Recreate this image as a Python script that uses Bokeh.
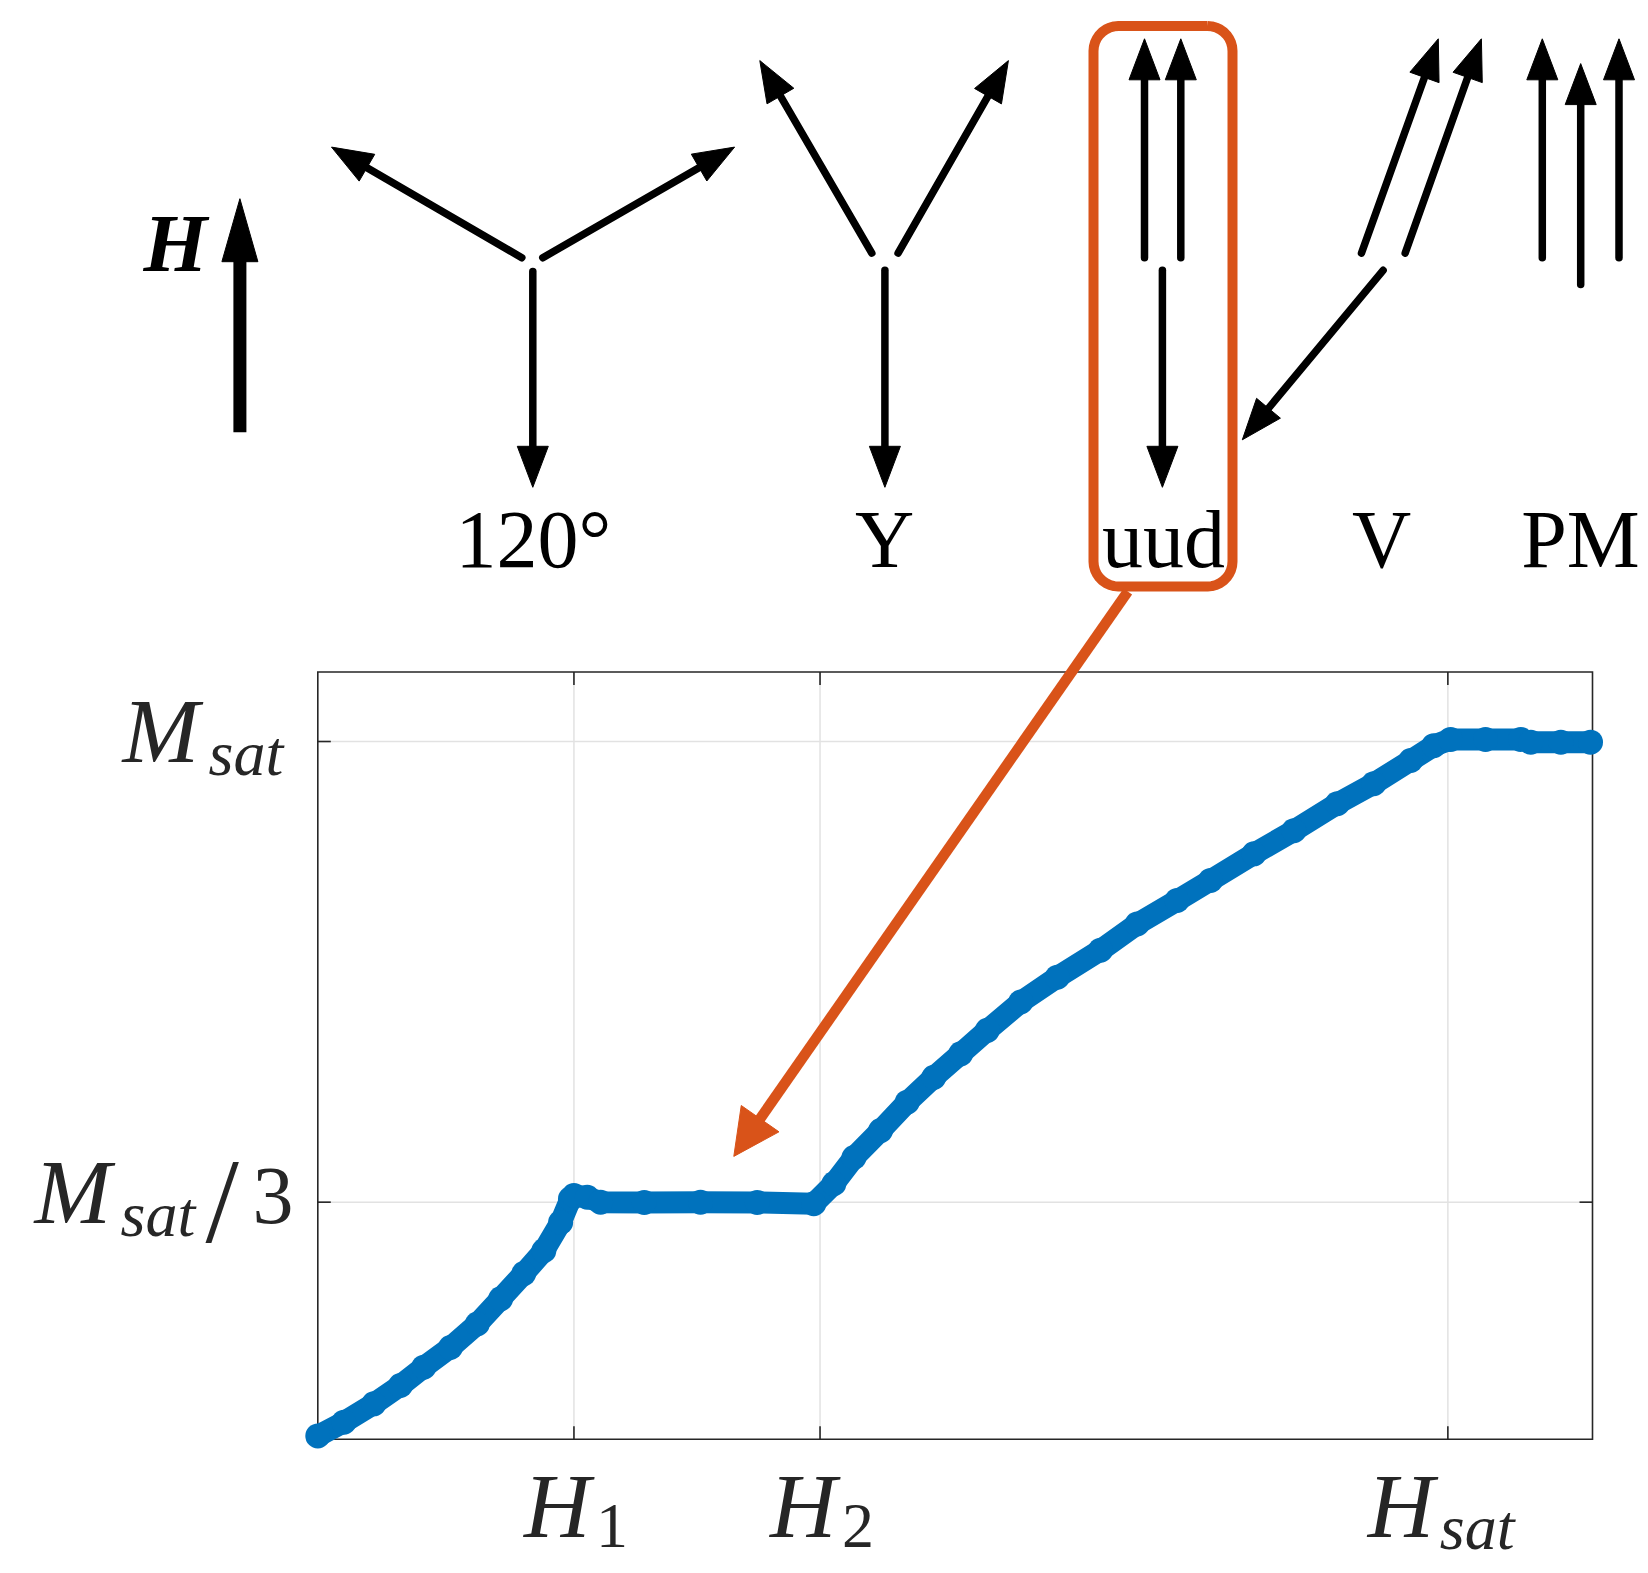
import math
from bokeh.plotting import figure
from bokeh.models import Range1d
from bokeh.core.properties import value
from bokeh.embed import file_html
from bokeh.resources import INLINE

# ---------------- data ----------------
tick_fields = [1.02, 2.0, 4.5]          # H1, H2, Hsat
tick_field_subs = ["1", "2", "sat"]
tick_moments = [1.0 / 3.0, 1.0]        # Msat/3, Msat

field = [0.0, 0.104, 0.223, 0.329, 0.422, 0.528, 0.635, 0.728, 0.820, 0.900,
         0.967, 1.006, 1.020, 1.073, 1.126, 1.30, 1.524, 1.75, 1.975, 2.055,
         2.135, 2.241, 2.347, 2.453, 2.560, 2.666, 2.799, 2.945, 3.117, 3.263,
         3.422, 3.555, 3.728, 3.887, 4.060, 4.205, 4.352, 4.444, 4.511, 4.650,
         4.790, 4.830, 4.950, 5.068]
magnet = [-0.005, 0.015, 0.0415, 0.068, 0.0945, 0.123, 0.157, 0.1935, 0.230, 0.263,
          0.304, 0.338, 0.343, 0.3405, 0.3333, 0.333, 0.3333, 0.333, 0.331, 0.360,
          0.398, 0.437, 0.478, 0.514, 0.548, 0.582, 0.623, 0.659, 0.698, 0.736,
          0.770, 0.799, 0.8375, 0.871, 0.910, 0.939, 0.9725, 0.994, 1.003, 1.003,
          1.003, 0.999, 0.999, 0.999]

structure_names = ["120°", "Y", "uud", "V", "PM"]

# ---------------- layout (canvas pixels) ----------------
CW, CH = 1640, 1565
FL, FR, FT, FB = 317.3, 1592.0, 671.5, 1438.7     # chart box on the canvas
X0, X1 = 0.0, 5.076
Y0, Y1 = -0.0097, 1.1006

BLUE = "#0072BD"
ORANGE = "#D95319"
AX = "#262626"
GRID = "#e2e2e2"
FONT = value("Liberation Serif")
BASE_SHIFT = 0.355   # text glyph baseline correction (in em)

p = figure(width=CW, height=CH, output_backend="svg", toolbar_location=None,
           x_range=Range1d(0, CW), y_range=Range1d(CH, 0),
           x_axis_location=None, y_axis_location=None, title=None,
           min_border=0, background_fill_color="white", border_fill_color="white")
p.outline_line_color = None
p.grid.visible = False

# chart data ranges, mapped onto the chart box
sxu = (X1 - X0) / (FR - FL)
syu = (Y1 - Y0) / (FB - FT)
p.extra_x_ranges = {"cx": Range1d(X0 - FL * sxu, X1 + (CW - FR) * sxu)}
p.extra_y_ranges = {"cy": Range1d(Y0 - (CH - FB) * syu, Y1 + FT * syu)}
C = dict(x_range_name="cx", y_range_name="cy")

# ---------------- chart frame, grid, ticks ----------------
nx, ny = len(tick_fields), len(tick_moments)
p.segment(x0=tick_fields, y0=[Y0] * nx, x1=tick_fields, y1=[Y1] * nx,
          line_color=GRID, line_width=1.5, **C)
p.segment(x0=[X0] * ny, y0=tick_moments, x1=[X1] * ny, y1=tick_moments,
          line_color=GRID, line_width=1.5, **C)
p.line(x=[X0, X1, X1, X0, X0], y=[Y0, Y0, Y1, Y1, Y0], line_color=AX, line_width=1.6,
       line_join="miter", **C)
tl_x, tl_y = 13 * sxu, 13 * syu
p.segment(x0=tick_fields, y0=[Y0] * nx, x1=tick_fields, y1=[Y0 + tl_y] * nx,
          line_color=AX, line_width=1.6, **C)
p.segment(x0=tick_fields, y0=[Y1] * nx, x1=tick_fields, y1=[Y1 - tl_y] * nx,
          line_color=AX, line_width=1.6, **C)
p.segment(x0=[X0] * ny, y0=tick_moments, x1=[X0 + tl_x] * ny, y1=tick_moments,
          line_color=AX, line_width=1.6, **C)
p.segment(x0=[X1] * ny, y0=tick_moments, x1=[X1 - tl_x] * ny, y1=tick_moments,
          line_color=AX, line_width=1.6, **C)

# ---------------- curve ----------------
p.line(field, magnet, line_width=22, line_color=BLUE, line_join="round", line_cap="round", **C)
p.scatter(field, magnet, size=25, fill_color=BLUE, line_color=None, **C)


# ---------------- helpers ----------------
def sxr(v):
    return FL + (v - X0) / (X1 - X0) * (FR - FL)


def syr(v):
    return FB - (v - Y0) / (Y1 - Y0) * (FB - FT)


def txt(s, x, y, size, style="normal", color="black", align="left"):
    p.text(x=[x], y=[y - BASE_SHIFT * size], text=[s], text_font=FONT,
           text_font_size=value(f"{size}px"), text_font_style=value(style),
           text_color=color, text_align=value(align), text_baseline=value("alphabetic"))


def arrow(x0, y0, x1, y1, lw, hl, hw, color="black", cap="round"):
    dx, dy = x1 - x0, y1 - y0
    n = math.hypot(dx, dy)
    ux, uy = dx / n, dy / n
    bx, by = x1 - ux * hl, y1 - uy * hl
    ex, ey = x1 - ux * hl * 0.6, y1 - uy * hl * 0.6
    nx_, ny_ = -uy, ux
    p.line([x0, ex], [y0, ey], line_color=color, line_width=lw, line_cap=cap)
    p.patch([x1, bx + nx_ * hw / 2, bx - nx_ * hw / 2],
            [y1, by + ny_ * hw / 2, by - ny_ * hw / 2],
            fill_color=color, line_color=color, line_width=1)


# ---------------- tick labels ----------------
for v, sub in zip(tick_fields, tick_field_subs):
    cx = sxr(v)
    if sub == "sat":
        txt("H", cx - 80, 1538, 92, "italic", AX)
        txt("sat", cx - 8, 1550, 64, "italic", AX)
    else:
        txt("H", cx - 50, 1538, 92, "italic", AX)
        txt(sub, cx + 22, 1548, 64, "normal", AX)

cy = syr(tick_moments[1])
txt("M", 122, cy + 22.5, 92, "italic", AX)
txt("sat", 208, cy + 35, 64, "italic", AX)
cy = syr(tick_moments[0])
txt("M", 34, cy + 22.5, 92, "italic", AX)
txt("sat", 120, cy + 35, 64, "italic", AX)
txt("/", 205, cy + 41.5, 120, "normal", AX)
txt("3", 252, cy + 22.5, 82, "normal", AX)

# ---------------- spin diagram ----------------
arrow(239.4, 431.7, 239.4, 198.2, 13, 63, 36, cap="butt")
txt("H", 175, 272, 82, "bold italic", "black", "center")

thin_arrows = [
    (521.3, 257.2, 331.0, 146.6), (542.3, 257.2, 734.1, 146.6), (532.3, 271.0, 532.3, 486.8),
    (871.3, 252.6, 759.3, 60.1), (897.6, 252.6, 1007.9, 60.1), (884.4, 269.8, 884.4, 486.8),
    (1144.0, 257.2, 1144.0, 38.3), (1180.3, 257.2, 1180.3, 38.3), (1161.9, 269.8, 1161.9, 486.8),
    (1361.0, 252.6, 1437.8, 38.3), (1404.7, 252.6, 1480.9, 38.3), (1382.6, 269.8, 1241.8, 439.3),
    (1541.8, 257.2, 1541.8, 38.3), (1580.2, 284.0, 1580.2, 63.1), (1618.5, 257.2, 1618.5, 38.3),
]
for a in thin_arrows:
    arrow(*a, 7.5, 41, 31)

for name, cx in zip(structure_names, [533, 884, 1163, 1381, 1580]):
    txt(name, cx, 568, 82, "normal", "black", "center")

# rounded box around the uud structure
bl, br, bt, bb, rad = 1093, 1232, 25.5, 586, 25
bxs, bys = [], []
for (cxr, cyr, a0) in [(br - rad, bt + rad, -90), (br - rad, bb - rad, 0),
                       (bl + rad, bb - rad, 90), (bl + rad, bt + rad, 180)]:
    for k in range(10):
        ang = math.radians(a0 + 90 * k / 9)
        bxs.append(cxr + rad * math.cos(ang))
        bys.append(cyr + rad * math.sin(ang))
bxs.append(bxs[0])
bys.append(bys[0])
p.line(bxs, bys, line_color=ORANGE, line_width=10, line_join="round")

arrow(1127.3, 591, 733.3, 1155.9, 10.5, 46, 46, ORANGE, cap="butt")

open("out.html", "w").write(file_html(p, INLINE))
